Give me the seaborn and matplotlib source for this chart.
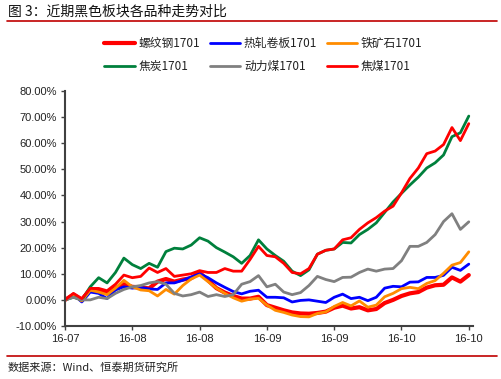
import matplotlib
matplotlib.use("Agg")
import matplotlib.pyplot as plt
import seaborn as sns
import numpy as np
import pandas as pd
from matplotlib.lines import Line2D

tick_labels = ["16-07", "16-08", "16-08", "16-09", "16-09", "16-10", "16-10"]

luowengang = [0, 2, 0, 4, 3.8, 2.5, 4.5, 6, 5, 4.8, 4.4, 7, 8, 7, 7.8, 8.3, 10.5, 7.5, 4.5, 2.8,
              1.5, 0.5, 0.5, 1.2, -2, -3, -4, -4.8, -5.2, -5.3, -5, -4.5, -3, -2.2, -3.3, -2.8,
              -4, -3.5, -1.2, 0, 1.5, 2.5, 3, 4.7, 5.6, 5.8, 8.6, 7, 9.5]
rezha = [0, 2, -0.8, 3, 2.5, 0.5, 3.8, 5, 4.5, 4.8, 4.2, 4, 6.5, 6.5, 7.5, 8.8, 10, 8.5, 6.5, 4.8,
         3.2, 2.3, 3.3, 3.7, 1, 1, 0.8, -0.8, -0.2, 0, -0.5, -1, 1, 2.2, 0.5, 1, -0.3, 1, 4.5,
         5.2, 5, 6.8, 6.9, 8.6, 8.6, 9.4, 12.5, 11.3, 13.7]
tiekuangshi = [0, 1.6, -0.4, 3.7, 3, 2, 4.5, 7.5, 5, 3.8, 3.5, 1.5, 4, 2.2, 5.5, 8, 9.5, 7, 4.5, 2.5,
               0.8, -0.5, 0.3, 0.6, -2, -4, -4.8, -5.8, -6.4, -6.5, -5.2, -4.6, -2.5, -1, -2.3,
               -0.4, -2.8, -2, 1.2, 2.5, 4.3, 4.8, 4.3, 6.3, 7.4, 10.2, 13.3, 14.3, 18.4]
jiaotan = [0, 1, 0, 5, 8.5, 6.5, 10.5, 16, 13.5, 12, 14, 12.5, 18.5, 19.8, 19.5, 21, 23.8, 22.5, 20,
           18.3, 16.5, 14, 17, 23, 19.5, 17, 14.8, 11, 9.3, 11.5, 17.5, 19, 19.5, 22, 21.8, 25, 27,
           29.5, 33.5, 37.5, 40.8, 44, 47, 50.5, 52.5, 55.5, 62.5, 64, 70.4]
donglimei = [0, 1, 0, 0, 1, 0.5, 2.5, 4, 5, 5.5, 6.5, 7, 6, 2.5, 1.5, 2, 3, 1.3, 2, 1.3, 2, 6, 7,
             9.3, 5, 6, 3, 2, 2.8, 5.5, 9, 7.8, 7, 8.6, 8.7, 10.5, 11.8, 11, 11.8, 12, 15, 20.5,
             20.5, 22, 25, 30, 33, 27, 29.9]
jiaomei = [0, 2.5, 0.5, 4.4, 4.4, 3.5, 6, 9.5, 8.5, 9, 12.2, 10.5, 12, 9, 9.5, 10, 11.2, 10.5, 10.5,
           12, 11, 11, 15.5, 20.5, 17, 16.5, 14, 10.5, 10, 12, 17.5, 19, 19.5, 23, 23.8, 27, 29.5,
           31.5, 34, 35.9, 41, 46.5, 50.5, 56, 57, 59.5, 66, 61, 67.5]

series = [
    ("螺纹钢1701", luowengang, "#FF0000", 3.0),
    ("热轧卷板1701", rezha, "#0000FF", 2.0),
    ("铁矿石1701", tiekuangshi, "#FF8C00", 2.0),
    ("焦炭1701", jiaotan, "#00803C", 2.0),
    ("动力煤1701", donglimei, "#808080", 2.0),
    ("焦煤1701", jiaomei, "#FF0000", 2.0),
]

sns.set_style("white")
cjk = ["Noto Sans CJK SC", "DejaVu Sans"]
plt.rcParams["font.family"] = cjk

fig = plt.figure(figsize=(5.01, 3.79), dpi=100)
ax = fig.add_axes([65 / 501, 1 - 326 / 379, (473 - 65) / 501, (326 - 91) / 379])

for name, vals, color, lw in series:
    df = pd.DataFrame({"x": np.arange(len(vals)), "y": vals})
    sns.lineplot(data=df, x="x", y="y", ax=ax, color=color, linewidth=lw, label=name,
                 solid_joinstyle="round", solid_capstyle="round")

n = len(luowengang)
ax.set_xlim(0, 48.5)
ax.set_ylim(-10, 80)
ax.set_xticks(np.arange(0, n, 8))
ax.set_xticklabels(tick_labels, family="Liberation Sans", fontsize=8, color="#222222")
yt = np.arange(-10, 81, 10)
ax.set_yticks(yt)
ax.set_yticklabels([f"{v:.2f}%" for v in yt], family="Liberation Sans", fontsize=8, color="#222222")
ax.set_xlabel("")
ax.set_ylabel("")
for s in ["top", "right"]:
    ax.spines[s].set_visible(False)
for s in ["left", "bottom"]:
    ax.spines[s].set_color("#404040")
    ax.spines[s].set_linewidth(1.5)
ax.tick_params(axis="both", which="both", direction="out", length=3, width=1, color="#404040",
               left=True, bottom=True, pad=3)

handles, labels = ax.get_legend_handles_labels()
order = [0, 3, 1, 4, 2, 5]
leg = ax.legend([handles[i] for i in order], [labels[i] for i in order], ncol=3,
                loc="center", bbox_to_anchor=(0.5 * (97 + 430) / 501, 1 - 55 / 379),
                bbox_transform=fig.transFigure, frameon=False, fontsize=8.5,
                handlelength=2.6, columnspacing=0.8, labelspacing=0.9, handletextpad=0.3)
for t in leg.get_texts():
    t.set_color("#222222")

fig.text(8 / 501, 1 - 12 / 379, "图 3：近期黑色板块各品种走势对比", fontsize=10,
         va="center", ha="left", color="#111111")
fig.add_artist(Line2D([7 / 501, 497 / 501], [1 - 21 / 379, 1 - 21 / 379], color="#C00000", lw=1.2))
fig.add_artist(Line2D([7 / 501, 497 / 501], [1 - 356 / 379, 1 - 356 / 379], color="#C00000", lw=1.2))
fig.text(8 / 501, 1 - 368 / 379, "数据来源：Wind、恒泰期货研究所", fontsize=8,
         va="center", ha="left", color="#222222")

fig.savefig("out.png", dpi=100)
